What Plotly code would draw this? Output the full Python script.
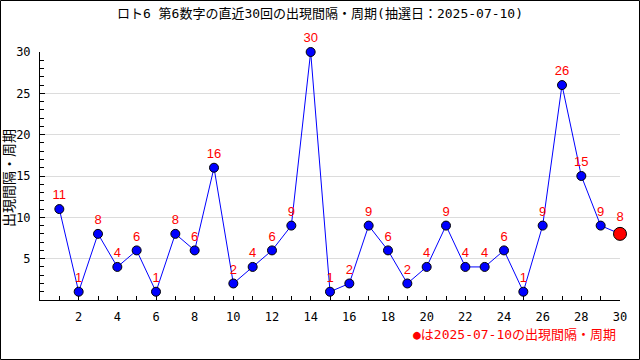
import plotly.graph_objects as go

draws = list(range(1, 31))
intervals = [11, 1, 8, 4, 6, 1, 8, 6, 16, 2, 4, 6, 9, 30, 1, 2, 9, 6, 2, 4, 9, 4, 4, 6, 1, 9, 26, 15, 9, 8]
x_tick_labels = [2, 4, 6, 8, 10, 12, 14, 16, 18, 20, 22, 24, 26, 28, 30]
y_tick_labels = [5, 10, 15, 20, 25, 30]
title = "ロト6 第6数字の直近30回の出現間隔・周期(抽選日：2025-07-10)"
y_title = "出現間隔・周期"
legend_text = "●は2025-07-10の出現間隔・周期"

FONT = "DejaVu Sans Mono, Noto Sans CJK JP, sans-serif"
LABEL_FONT = "Liberation Sans, Arial, sans-serif"

n = len(intervals)
colors = ["#0000ff"] * (n - 1) + ["#ff0000"]
sizes = [9] * (n - 1) + [13]

fig = go.Figure()
fig.add_trace(go.Scatter(
    x=draws, y=intervals, mode="lines+markers+text",
    line=dict(color="#0000ff", width=1),
    marker=dict(color=colors, size=sizes, opacity=1, line=dict(color="black", width=1)),
    text=[str(v) for v in intervals], textposition="top center",
    textfont=dict(color="#ff0000", size=13, family=LABEL_FONT),
    cliponaxis=False, showlegend=False, hoverinfo="x+y",
))

W, H = 640, 360
L, R, T, B = 40, 20, 52, 60
pw, ph = W - L - R, H - T - B

fig.update_layout(
    width=W, height=H,
    margin=dict(l=L, r=R, t=T, b=B, pad=0, autoexpand=False),
    paper_bgcolor="white", plot_bgcolor="white",
    font=dict(family=FONT, size=12, color="black"),
    title=dict(text=title, x=0.5, xanchor="center", y=1 - 13 / H, yanchor="middle",
               font=dict(size=13, family=FONT)),
    xaxis=dict(range=[0, 30], tickvals=x_tick_labels, ticks="inside", ticklen=4,
               tickcolor="black", showline=True, linecolor="black", linewidth=1,
               showgrid=False, zeroline=False, fixedrange=True, automargin=False,
               ticklabelstandoff=6,
               minor=dict(dtick=1, tick0=0, ticks="inside", ticklen=4, tickcolor="black"),
               tickfont=dict(size=12)),
    yaxis=dict(range=[0, 30], tickvals=y_tick_labels, ticks="inside", ticklen=5,
               tickcolor="black", showline=True, linecolor="black", linewidth=1,
               showgrid=True, gridcolor="#dcdcdc", gridwidth=1, zeroline=False,
               fixedrange=True, automargin=False, ticklabelstandoff=6,
               minor=dict(dtick=1, tick0=0, ticks="inside", ticklen=4, tickcolor="black"),
               tickfont=dict(size=12)),
    shapes=[dict(type="rect", xref="paper", yref="paper",
                 x0=-L / pw + 0.5 / pw, x1=1 + R / pw - 0.5 / pw,
                 y0=-B / ph + 0.5 / ph, y1=1 + T / ph - 0.5 / ph,
                 line=dict(color="black", width=1), fillcolor="rgba(0,0,0,0)")],
    annotations=[
        dict(text=legend_text, xref="paper", yref="paper",
             x=1 - 2 / pw, y=-(334 - (T + ph)) / ph, xanchor="right", yanchor="middle",
             showarrow=False, font=dict(color="#ff0000", size=13)),
        dict(text=y_title, xref="paper", yref="paper", textangle=-90,
             x=-(L - 9) / pw, y=(300 - 178) / ph, xanchor="center", yanchor="middle",
             showarrow=False, font=dict(size=14)),
    ],
)

fig.write_html("out.html", config={"displayModeBar": False},
               post_script="document.body.style.margin='0';document.body.style.overflow='hidden';")
